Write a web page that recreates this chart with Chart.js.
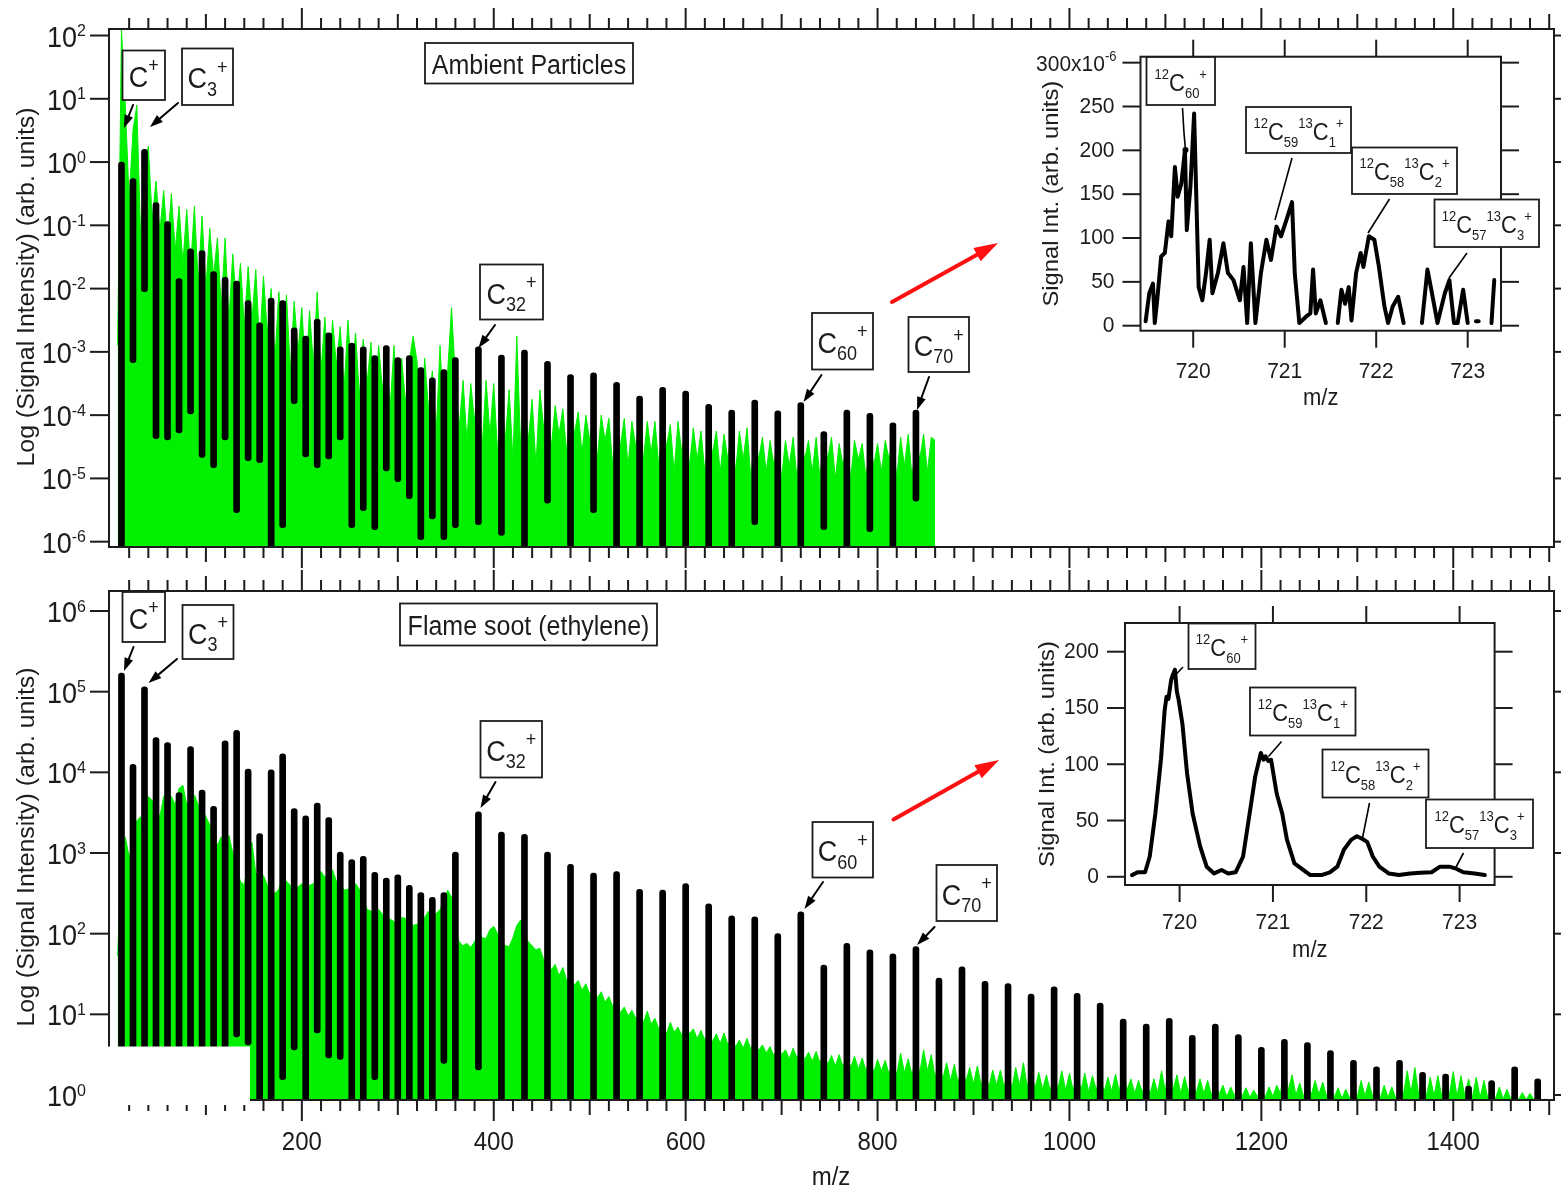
<!DOCTYPE html>
<html>
<head>
<meta charset="utf-8">
<title>Carbon cluster spectra</title>
<script src="https://cdn.jsdelivr.net/npm/chart.js@4.4.1/dist/chart.umd.min.js"></script>
<style>
  html, body { margin: 0; background: #fff; }
  #page { position: relative; width: 1561px; height: 1189px; overflow: hidden; background: #fff; }
  #page canvas { position: absolute; left: 0; top: 0; }
</style>
</head>
<body>
<div id="page">
  <canvas id="ambient" width="1561" height="1189"></canvas>
  <canvas id="soot" width="1561" height="1189"></canvas>
  <canvas id="ambientIso" width="1561" height="1189"></canvas>
  <canvas id="sootIso" width="1561" height="1189"></canvas>
</div>
<script>
const FONT = '"Liberation Sans", Arial, Helvetica, sans-serif';
const INK = '#1c1c1c';
const LIME = '#00f000';
const RED = '#ff1010';
const VS = 1.08;          // glyphs are drawn a little taller than wide
const MZ_PER_C = 12;      // C_n sits at m/z 12 n
const NOISE_START = 8;    // noise traces are sampled every 4 m/z from m/z 8
const NOISE_STEP = 4;

// ---- Ambient particles: cluster peaks (log10 of top / bottom of each peak) ----
const ambientClusters = [1, 2, 3, 4, 5, 6, 7, 8, 9, 10, 11, 12, 13, 14, 15, 16, 17, 18, 19, 20,
  21, 22, 23, 24, 25, 26, 27, 28, 29, 30, 32, 34, 36, 38, 40, 42, 44, 46, 48, 50,
  52, 54, 56, 58, 60, 62, 64, 66, 68, 70];
const ambientPeakLog = [0.0, -0.26, 0.20, -0.64, -0.94, -1.84, -1.37, -1.40, -1.73, -1.82,
  -1.88, -2.19, -2.54, -2.15, -2.19, -2.62, -2.75, -2.48, -2.70, -2.92,
  -2.86, -2.92, -3.06, -2.90, -3.09, -3.06, -3.25, -3.41, -3.28, -3.09,
  -2.92, -3.05, -2.97, -3.15, -3.36, -3.33, -3.48, -3.70, -3.56, -3.62,
  -3.83, -3.92, -3.76, -3.93, -3.80, -4.26, -3.92, -3.97, -4.12, -3.92];
const ambientBaseLog = [-6.1, -3.17, -2.05, -4.37, -4.39, -4.28, -3.98, -4.67, -4.83, -4.39,
  -5.54, -4.72, -4.75, -6.1, -5.78, -3.82, -4.66, -4.83, -4.69, -4.39,
  -5.78, -5.51, -5.81, -4.88, -5.05, -5.32, -5.97, -5.64, -5.97, -5.78,
  -5.73, -5.9, -6.1, -5.39, -6.1, -5.54, -6.1, -6.1, -6.1, -6.1,
  -6.1, -6.1, -5.73, -6.1, -6.1, -5.81, -6.1, -5.84, -6.1, -5.36];
// noisy background spectrum, log10, alternating spike tops and the dips between them
const ambientNoiseLog = [
  -2.9, 2.1, 0.9, -0.6, 0.5, 0.9, -1.2, -0.1, 0.25, -0.9,
  -0.3, -1.1, -0.45, -1.3, -0.5, -1.4, -0.7, -1.6, -0.75, -1.7,
  -0.7, -1.9, -0.85, -2.0, -1.05, -1.8, -1.2, -2.3, -1.2, -2.5,
  -1.45, -2.3, -1.6, -2.6, -1.65, -2.5, -1.7, -2.9, -1.8, -2.7,
  -2.0, -3.1, -2.05, -2.9, -2.1, -3.3, -2.2, -3.0, -2.3, -3.4,
  -2.35, -3.2, -2.05, -3.3, -2.45, -3.5, -2.5, -3.2, -2.6, -3.6,
  -2.5, -3.4, -2.7, -3.7, -2.8, -3.5, -2.85, -3.9, -2.9, -3.6,
  -2.95, -3.9, -2.9, -4.0, -3.1, -3.8, -3.15, -2.75, -3.15, -4.2,
  -3.1, -3.9, -3.3, -4.3, -2.9, -4.1, -3.3, -2.3, -3.4, -4.2,
  -3.45, -4.4, -3.5, -4.1, -3.4, -4.5, -3.45, -4.3, -3.5, -4.6,
  -3.55, -4.4, -3.6, -4.7, -2.75, -4.5, -3.7, -4.4, -3.75, -4.8,
  -3.6, -4.2, -3.8, -4.5, -3.85, -4.3, -3.9, -4.6, -3.75, -4.3,
  -3.95, -4.6, -4.0, -4.4, -3.9, -4.7, -4.0, -4.4, -4.05, -4.8,
  -4.0, -4.5, -4.05, -4.8, -4.1, -4.5, -4.05, -4.7, -4.1, -4.6,
  -4.1, -4.8, -4.05, -4.5, -4.15, -4.9, -4.1, -4.6, -4.15, -4.8,
  -4.2, -4.7, -4.25, -4.9, -4.3, -4.6, -4.25, -4.9, -4.3, -4.7,
  -4.2, -4.9, -4.25, -4.7, -4.2, -5.0, -4.3, -4.7, -4.35, -4.9,
  -4.4, -4.8, -4.35, -5.0, -4.4, -4.8, -4.35, -5.0, -4.35, -4.7,
  -4.4, -4.9, -4.35, -5.0, -4.3, -4.7, -4.35, -5.0, -4.45, -4.8,
  -4.4, -5.0, -4.4, -4.7, -4.45, -5.0, -4.4, -4.8, -4.45, -4.9,
  -4.4, -4.7, -4.3, -5.0, -4.35, -4.8, -4.3, -5.0, -4.35, -4.7,
  -4.3, -4.9, -4.35, -4.4];

// ---- Flame soot (ethylene) ----
const sootClusters = [1, 2, 3, 4, 5, 6, 7, 8, 9, 10, 11, 12, 13, 14, 15, 16, 17, 18, 19, 20,
  21, 22, 23, 24, 25, 26, 27, 28, 29, 30, 32, 34, 36, 38, 40, 42, 44, 46, 48, 50,
  52, 54, 56, 58, 60, 62, 64, 66, 68, 70, 72, 74, 76, 78, 80, 82, 84, 86, 88, 90,
  92, 94, 96, 98, 100, 102, 104, 106, 108, 110, 112, 114, 116, 118, 120, 122, 124];
const sootPeakLog = [5.23, 4.10, 5.06, 4.43, 4.37, 3.75, 4.32, 3.78, 3.58, 4.39,
  4.52, 4.04, 3.24, 4.03, 4.23, 3.55, 3.46, 3.62, 3.44, 3.01,
  2.92, 2.96, 2.76, 2.69, 2.73, 2.60, 2.51, 2.45, 2.51, 3.01,
  3.51, 3.26, 3.23, 3.01, 2.86, 2.75, 2.77, 2.55, 2.54, 2.62,
  2.37, 2.22, 2.21, 2.00, 2.27, 1.61, 1.88, 1.80, 1.75, 1.84,
  1.45, 1.59, 1.41, 1.38, 1.25, 1.34, 1.26, 1.14, 0.94, 0.88,
  0.95, 0.74, 0.88, 0.75, 0.59, 0.69, 0.65, 0.55, 0.43, 0.35,
  0.43, 0.28, 0.26, 0.11, 0.18, 0.35, 0.20];
const sootBaseLog = [-0.1, -0.1, -0.1, -0.1, -0.1, -0.1, -0.1, -0.1, -0.1, -0.1,
  0.72, 0.62, -0.1, -0.1, 0.19, 0.56, -0.1, 0.77, 0.46, 0.44,
  -0.1, -0.1, 0.19, -0.1, -0.1, -0.1, -0.1, -0.1, 0.39, -0.1,
  0.31, -0.1, -0.1, -0.1, -0.1, -0.1, -0.1, -0.1, -0.1, -0.1,
  -0.1, -0.1, -0.1, -0.1, -0.1, -0.1, -0.1, -0.1, -0.1, -0.1,
  -0.1, -0.1, -0.1, -0.1, -0.1, -0.1, -0.1, -0.1, -0.1, -0.1,
  -0.1, -0.1, -0.1, -0.1, -0.1, -0.1, -0.1, -0.1, -0.1, -0.1,
  -0.1, -0.1, -0.1, -0.1, -0.1, -0.1, -0.1];
const sootNoiseLog = [
  1.72, 3.0, 3.2, 2.95, 3.1, 3.4, 3.45, 3.35, 3.7, 3.65,
  3.55, 3.45, 3.7, 3.75, 3.7, 3.6, 3.8, 3.84, 3.6, 3.65,
  3.72, 3.6, 3.55, 3.45, 3.35, 3.15, 3.1, 3.2, 3.15, 3.22,
  3.0, 2.8, 2.65, 2.6, 2.9, 3.13, 2.75, 2.7, 2.72, 2.6,
  2.55, 2.5, 2.55, 2.7, 2.65, 2.6, 2.55, 2.58, 2.62, 2.5,
  2.6, 2.62, 2.7, 2.77, 2.7, 2.75, 2.79, 2.65, 2.6, 2.54,
  2.55, 2.6, 2.62, 2.55, 2.45, 2.3, 2.28, 2.25, 2.3, 2.24,
  2.2, 2.18, 2.15, 2.12, 2.2, 2.19, 2.15, 2.1, 2.12, 2.05,
  2.2, 2.28, 2.2, 2.25, 2.3, 2.4, 2.54, 2.45, 2.05, 1.9,
  1.85, 1.88, 1.83, 1.9, 2.0, 1.95, 1.94, 2.05, 2.09, 2.0,
  1.9, 1.85, 1.84, 1.95, 2.1, 2.17, 2.0, 1.9, 1.85, 1.8,
  1.82, 1.68, 1.7, 1.55, 1.62, 1.48, 1.58, 1.42, 1.48, 1.36,
  1.42, 1.3, 1.38, 1.25, 1.32, 1.2, 1.28, 1.15, 1.22, 1.1,
  1.18, 1.02, 1.09, 0.98, 1.05, 0.95, 1.02, 0.9, 1.04, 0.88,
  0.95, 0.82, 0.88, 0.76, 0.9, 0.78, 0.84, 0.74, 0.89, 0.76,
  0.82, 0.7, 0.8, 0.68, 0.81, 0.66, 0.76, 0.64, 0.77, 0.62,
  0.7, 0.6, 0.68, 0.58, 0.7, 0.56, 0.72, 0.55, 0.62, 0.52,
  0.6, 0.48, 0.62, 0.5, 0.56, 0.45, 0.58, 0.46, 0.55, 0.44,
  0.53, 0.42, 0.54, 0.4, 0.5, 0.38, 0.49, 0.36, 0.5, 0.35,
  0.5, 0.34, 0.48, 0.32, 0.46, 0.3, 0.45, 0.28, 0.44, 0.3,
  0.43, 0.26, 0.42, 0.25, 0.52, 0.28, 0.45, 0.24, 0.5, 0.28,
  0.56, 0.3, 0.5, 0.22, 0.42, 0.2, 0.4, 0.18, 0.38, 0.15,
  0.36, 0.16, 0.34, 0.14, 0.36, 0.12, 0.3, 0.1, 0.31, 0.12,
  0.31, 0.1, 0.3, 0.08, 0.34, 0.12, 0.4, 0.1, 0.32, 0.08,
  0.28, 0.07, 0.25, 0.05, 0.23, 0.08, 0.3, 0.06, 0.27, 0.05,
  0.31, 0.06, 0.27, 0.04, 0.24, 0.06, 0.27, 0.03, 0.22, 0.05,
  0.26, 0.04, 0.35, 0.06, 0.2, 0.02, 0.18, 0.03, 0.19, 0.01,
  0.2, 0.03, 0.3, 0.04, 0.48, 0.06, 0.25, 0.02, 0.23, 0.03,
  0.23, 0.01, 0.2, 0.02, 0.18, 0.0, 0.15, 0.01, 0.12, -0.02,
  0.1, -0.01, 0.12, -0.02, 0.09, -0.03, 0.06, -0.02, 0.08, -0.03,
  0.1, -0.02, 0.12, 0.02, 0.38, 0.06, 0.25, 0.0, 0.15, -0.02,
  0.15, 0.0, 0.18, 0.01, 0.16, -0.02, 0.12, -0.03, 0.09, -0.04,
  0.07, -0.04, 0.12, -0.03, 0.18, -0.01, 0.16, -0.02, 0.1, -0.04,
  0.12, -0.03, 0.1, -0.04, 0.12, 0.0, 0.3, 0.03, 0.34, 0.0,
  0.28, -0.02, 0.22, -0.01, 0.24, -0.02, 0.26, 0.0, 0.29, -0.02,
  0.24, -0.01, 0.2, -0.03, 0.22, -0.03, 0.18, -0.04, 0.12, -0.05,
  0.1, -0.05, 0.07, -0.05, 0.05, -0.06, 0.03, -0.06, 0.02, -0.06,
  0.0, -0.06, -0.05];

// ---- C60 isotope windows (signal in units of 1e-6) ----
const ambientIsoMz = [719.48, 719.52, 719.56, 719.58, 719.61, 719.65, 719.69, 719.73, 719.76, 719.80,
  719.83, 719.87, 719.91, 719.93, 719.97, 720.01, 720.03, 720.06, 720.10, 720.14,
  720.18, 720.21, 720.27, 720.33, 720.38, 720.44, 720.51, 720.55, 720.59, 720.63,
  720.68, 720.74, 720.80, 720.85, 720.91, 720.96, 721.02, 721.08, 721.11, 721.16,
  721.23, 721.28, 721.31, 721.34, 721.39, 721.45, 721.51, 721.58, 721.62, 721.66,
  721.70, 721.73, 721.78, 721.83, 721.86, 721.92, 721.98, 722.03, 722.09, 722.13,
  722.18, 722.24, 722.30, 722.40, 722.50, 722.56, 722.61, 722.67, 722.75, 722.80,
  722.85, 722.89, 722.95, 723.00, 723.05, 723.09, 723.12, 723.18, 723.26, 723.29];
const ambientIsoSignal = [5, 37, 48, 3, 33, 79, 83, 119, 102, 181,
  147, 162, 200, 109, 159, 242, 162, 44, 29, 60,
  98, 37, 60, 94, 60, 52, 29, 67, 3, 94,
  3, 60, 98, 75, 113, 102, 121, 141, 60, 3,
  10, 14, 64, 14, 29, 3, null, 3, 41, 25,
  44, 6, 60, 83, 67, 102, 98, 67, 22, 3,
  22, 33, 3, null, 3, 64, 37, 3, 37, 52,
  3, 3, 41, 3, null, 5, 5, null, 3, 52];
const sootIsoMz = [719.49, 719.55, 719.63, 719.68, 719.74, 719.80, 719.84, 719.86, 719.88, 719.91,
  719.93, 719.95, 719.97, 719.99, 720.03, 720.08, 720.14, 720.22, 720.29, 720.37,
  720.45, 720.52, 720.60, 720.68, 720.75, 720.81, 720.87, 720.90, 720.92, 720.95,
  720.98, 721.04, 721.10, 721.15, 721.23, 721.31, 721.40, 721.52, 721.61, 721.69,
  721.76, 721.84, 721.90, 721.95, 722.01, 722.07, 722.14, 722.24, 722.35, 722.47,
  722.58, 722.70, 722.79, 722.89, 722.97, 723.04, 723.16, 723.27];
const sootIsoSignal = [1.5, 4, 4, 18, 56, 104, 148, 160, 158, 175,
  180, 184, 165, 157, 136, 92, 56, 27, 9, 3,
  6, 3, 4, 18, 56, 89, 110, 104, 107, 103,
  104, 74, 56, 33, 12, 7, 1.5, 1.5, 4, 9,
  24, 33, 36, 34, 31, 18, 9, 3, 1.5, 3,
  3.5, 4, 9, 9, 7, 4, 3, 1.5];

const isoTicks = [720, 721, 722, 723];
const ambientIsoYTicks = [0, 50, 100, 150, 200, 250, 300];
const sootIsoYTicks = [0, 50, 100, 150, 200];
const massLabels = [200, 400, 600, 800, 1000, 1200, 1400];

// ---- annotation layout (page pixels) ----
const C = (sub) => sub ? [['C', 'n'], [sub, 'd'], ['+', 'u']] : [['C', 'n'], ['+', 'u']];
const iso = (a, b) => b
  ? [['12', 'u'], ['C', 'n'], [a, 'd'], ['13', 'u'], ['C', 'n'], [b, 'd'], ['+', 'u']]
  : [['12', 'u'], ['C', 'n'], [a, 'd'], ['+', 'u']];

const ambientNotes = [
  { box: [122.5, 50.5, 165, 100], parts: C(), from: [133, 105], to: [124, 128] },
  { box: [182, 48.5, 233, 105], parts: C('3'), from: [178, 103], to: [150, 127] },
  { box: [425, 43, 633, 83.5], parts: [['Ambient Particles', 'n']], size: 25 },
  { box: [480, 264.5, 543, 319.5], parts: C('32'), from: [495, 325], to: [478.5, 348] },
  { box: [812, 313, 873, 369.5], parts: C('60'), from: [821.5, 375], to: [803.5, 402] },
  { box: [908.5, 317, 969, 372], parts: C('70'), from: [929, 377], to: [917, 410] }
];
const sootNotes = [
  { box: [122.5, 592, 165, 642], parts: C(), from: [133.5, 647], to: [124, 671] },
  { box: [182.5, 605, 233.5, 659], parts: C('3'), from: [177, 659], to: [148.5, 683] },
  { box: [400, 603.5, 657, 645.5], parts: [['Flame soot (ethylene)', 'n']], size: 25 },
  { box: [480.5, 721, 542, 777.5], parts: C('32'), from: [495.5, 782], to: [480.5, 808] },
  { box: [812.5, 822, 873, 877.5], parts: C('60'), from: [823, 882], to: [804.5, 909] },
  { box: [936.5, 865, 997, 921], parts: C('70'), from: [934.5, 927], to: [917, 945] }
];
const ambientIsoNotes = [
  { box: [1146.5, 57, 1215, 105], parts: iso('60'), lead: [[1182.5, 108], [1184, 133], [1185.5, 150]], dot: true },
  { box: [1246, 107, 1351, 153], parts: iso('59', '1'), lead: [[1292, 158], [1275, 220]] },
  { box: [1352, 147.5, 1457, 194], parts: iso('58', '2'), lead: [[1389.5, 199], [1368, 233]] },
  { box: [1434.5, 199.5, 1539, 247], parts: iso('57', '3'), lead: [[1467, 253], [1449, 278]] }
];
const sootIsoNotes = [
  { box: [1188.5, 623.5, 1255.5, 669], parts: iso('60'), lead: [[1183, 667], [1172.5, 678]] },
  { box: [1250, 687.5, 1355.5, 735.5], parts: iso('59', '1'), lead: [[1281.5, 741.5], [1268.5, 756.5]] },
  { box: [1322.5, 749.5, 1428.5, 797.5], parts: iso('58', '2'), lead: [[1369.5, 803], [1362.5, 838]] },
  { box: [1426, 799.5, 1533, 848], parts: iso('57', '3'), lead: [[1463.5, 853], [1455.5, 868]] }
];

// ---------- drawing helpers ----------
function setFont(ctx, size) { ctx.font = `${size}px ${FONT}`; }

function seg(ctx, x1, y1, x2, y2) {
  ctx.beginPath(); ctx.moveTo(x1, y1); ctx.lineTo(x2, y2); ctx.stroke();
}

// parts: [text, 'n' | 'u' (superscript) | 'd' (subscript)], y is the baseline
function rich(ctx, parts, x, y, size, align, opt = {}) {
  const small = opt.small || Math.round(size * 0.62);
  const up = opt.up ?? 0.5, down = opt.down ?? 0.25;
  let w = 0;
  const widths = parts.map(([t, k]) => {
    setFont(ctx, k === 'n' ? size : small);
    const m = ctx.measureText(t).width; w += m; return m;
  });
  let cx = align === 'center' ? -w / 2 : align === 'right' ? -w : 0;
  ctx.save();
  ctx.translate(x, y); ctx.scale(1, VS);
  ctx.fillStyle = INK; ctx.textAlign = 'left'; ctx.textBaseline = 'alphabetic';
  parts.forEach(([t, k], i) => {
    setFont(ctx, k === 'n' ? size : small);
    const dy = k === 'u' ? -size * up : k === 'd' ? size * down : 0;
    ctx.fillText(t, cx, dy);
    cx += widths[i];
  });
  ctx.restore();
}

function label(ctx, str, x, y, size, align = 'center', rot = 0) {
  ctx.save();
  ctx.translate(x, y); ctx.scale(1, VS);
  if (rot) ctx.rotate(rot);
  setFont(ctx, size); ctx.fillStyle = INK;
  ctx.textAlign = align; ctx.textBaseline = 'middle';
  ctx.fillText(str, 0, 0);
  ctx.restore();
}

function arrow(ctx, [x1, y1], [x2, y2], color, width, headLen, headW) {
  const ang = Math.atan2(y2 - y1, x2 - x1);
  const bx = x2 - headLen * Math.cos(ang), by = y2 - headLen * Math.sin(ang);
  ctx.save();
  ctx.strokeStyle = color; ctx.fillStyle = color; ctx.lineWidth = width; ctx.lineCap = 'round';
  seg(ctx, x1, y1, bx, by);
  ctx.beginPath();
  ctx.moveTo(x2, y2);
  ctx.lineTo(bx + headW * Math.sin(ang), by - headW * Math.cos(ang));
  ctx.lineTo(bx - headW * Math.sin(ang), by + headW * Math.cos(ang));
  ctx.closePath(); ctx.fill();
  ctx.restore();
}

function noteBox(ctx, note, size, small, opt) {
  const [x1, y1, x2, y2] = note.box;
  const s = note.size || size;
  ctx.save();
  ctx.fillStyle = '#fff';
  ctx.fillRect(x1, y1, x2 - x1, y2 - y1);
  ctx.strokeStyle = INK; ctx.lineWidth = 1.8;
  ctx.strokeRect(x1, y1, x2 - x1, y2 - y1);
  rich(ctx, note.parts, (x1 + x2) / 2, (y1 + y2) / 2 + s * 0.4 * VS, s, 'center', { small, ...opt });
  ctx.restore();
}

// ---------- main spectrum panels ----------
function panelDecor(d) {
  return {
    id: 'panelDecor',
    afterDraw(chart) {
      const { ctx, chartArea: a, scales: { x, y } } = chart;
      ctx.save();
      ctx.strokeStyle = INK; ctx.lineWidth = 2; ctx.lineCap = 'butt';
      ctx.strokeRect(a.left, a.top, a.right - a.left, a.bottom - a.top);
      for (let m = 20; m <= 1500; m += 20) {
        const px = x.getPixelForValue(m);
        const len = m % 200 === 0 ? 21 : m % 100 === 0 ? 15 : 11;
        seg(ctx, px, a.top, px, a.top - len);
        seg(ctx, px, a.bottom, px, a.bottom + len);
      }
      for (let e = d.eMin; e <= d.eMax; e++) {
        const py = y.getPixelForValue(10 ** e);
        seg(ctx, a.left - 19, py, a.left, py);
        seg(ctx, a.right, py, a.right + 7, py);
        rich(ctx, [['10', 'n'], [String(e), 'u']], 86, py + 11, 27, 'right', { small: 16, up: 0.36 });
      }
      if (d.massLabels) {
        massLabels.forEach(m => label(ctx, String(m), x.getPixelForValue(m), a.bottom + 43, 24));
        label(ctx, 'm/z', 831, 1178, 24);
      }
      label(ctx, 'Log (Signal Intensity) (arb. units)', 28, d.titleY, 23, 'center', -Math.PI / 2);

      d.notes.forEach(n => {
        noteBox(ctx, n, 27, 18, { up: 0.5, down: 0.25 });
        if (n.from) arrow(ctx, n.from, n.to, '#000', 2, 13, 4.5);
      });
      arrow(ctx, d.red[0], d.red[1], RED, 4, 24, 7.5);

      if (d.patch) {
        ctx.fillStyle = '#fff';
        ctx.fillRect(...d.patch);
      }
      ctx.restore();
    }
  };
}

function spectrumChart(id, clusters, peakLog, baseLog, noiseLog, yRangeLog, d) {
  const peaks = clusters.map((n, i) => ({ x: n * MZ_PER_C, y: [10 ** baseLog[i], 10 ** peakLog[i]] }));
  const noise = noiseLog.map((v, i) => ({ x: NOISE_START + i * NOISE_STEP, y: 10 ** v }));
  return new Chart(document.getElementById(id), {
    type: 'bar',
    data: {
      datasets: [
        { type: 'bar', data: peaks, backgroundColor: '#000', barThickness: 6,
          borderRadius: 3, borderSkipped: false, order: 0 },
        { type: 'line', data: noise, borderColor: LIME, backgroundColor: LIME, borderWidth: 1,
          pointRadius: 0, tension: 0, fill: 'start', order: 1 }
      ]
    },
    options: {
      responsive: false, animation: false, events: [],
      layout: { padding: d.pad },
      plugins: { legend: { display: false }, tooltip: { enabled: false } },
      scales: {
        x: { type: 'linear', min: -1, max: 1505, display: false, offset: false, bounds: 'data' },
        y: { type: 'logarithmic', min: 10 ** yRangeLog[0], max: 10 ** yRangeLog[1], display: false, bounds: 'data' }
      }
    },
    plugins: [panelDecor(d)]
  });
}

// ---------- isotope insets ----------
function isoDecor(d) {
  return {
    id: 'isoDecor',
    afterDraw(chart) {
      const { ctx, chartArea: a, scales: { x, y } } = chart;
      ctx.save();
      ctx.strokeStyle = INK; ctx.lineWidth = 2;
      ctx.strokeRect(a.left, a.top, a.right - a.left, a.bottom - a.top);
      d.yTicks.forEach(v => {
        const py = y.getPixelForValue(v);
        seg(ctx, a.left - 18, py, a.left, py);
        seg(ctx, a.right, py, a.right + 18, py);
        if (d.scaleTag && v === d.yTicks[d.yTicks.length - 1]) {
          rich(ctx, [[v + 'x10', 'n'], ['-6', 'u']], a.left - 24, py + 8, 21, 'right', { small: 13, up: 0.42 });
        } else {
          label(ctx, String(v), a.left - 26, py, 21, 'right');
        }
      });
      isoTicks.forEach(m => {
        const px = x.getPixelForValue(m);
        seg(ctx, px, a.bottom, px, a.bottom + 17);
        seg(ctx, px, a.top, px, a.top - 17);
        label(ctx, String(m), px, a.bottom + d.labelGap, 21);
      });
      label(ctx, 'm/z', (a.left + a.right) / 2, a.bottom + d.labelGap + 27, 22);
      label(ctx, 'Signal Int. (arb. units)', d.titleX, (a.top + a.bottom) / 2, 22, 'center', -Math.PI / 2);

      d.notes.forEach(n => {
        noteBox(ctx, n, 22, 13, { up: 0.5, down: 0.3 });
        ctx.strokeStyle = '#000'; ctx.lineWidth = 1.6;
        ctx.beginPath();
        n.lead.forEach(([px, py], i) => i ? ctx.lineTo(px, py) : ctx.moveTo(px, py));
        ctx.stroke();
        if (n.dot) {
          const [px, py] = n.lead[n.lead.length - 1];
          ctx.fillStyle = '#000';
          ctx.beginPath(); ctx.arc(px, py, 3, 0, Math.PI * 2); ctx.fill();
        }
      });
      ctx.restore();
    }
  };
}

function isoChart(id, mz, signal, xr, yr, d) {
  return new Chart(document.getElementById(id), {
    type: 'line',
    data: {
      datasets: [{
        data: mz.map((m, i) => ({ x: m, y: signal[i] })),
        borderColor: '#000', borderWidth: 4, pointRadius: 0, tension: 0,
        spanGaps: false, borderJoinStyle: 'round', borderCapStyle: 'round'
      }]
    },
    options: {
      responsive: false, animation: false, events: [],
      layout: { padding: d.pad },
      plugins: { legend: { display: false }, tooltip: { enabled: false } },
      scales: {
        x: { type: 'linear', min: xr[0], max: xr[1], display: false, bounds: 'data' },
        y: { type: 'linear', min: yr[0], max: yr[1], display: false, bounds: 'data' }
      }
    },
    plugins: [isoDecor(d)]
  });
}

spectrumChart('ambient', ambientClusters, ambientPeakLog, ambientBaseLog, ambientNoiseLog, [-6.084, 2.103], {
  pad: { left: 109, top: 29, right: 7, bottom: 642 },
  eMin: -6, eMax: 2, titleY: 287, massLabels: false,
  notes: ambientNotes, red: [[892, 302], [998, 243]]
});

spectrumChart('soot', sootClusters, sootPeakLog, sootBaseLog, sootNoiseLog, [-0.062, 6.248], {
  pad: { left: 109, top: 591, right: 7, bottom: 89 },
  eMin: 0, eMax: 6, titleY: 847, massLabels: true,
  notes: sootNotes, red: [[893.5, 819.5], [999, 760]],
  patch: [87, 1046.5, 163, 58.5]
});

isoChart('ambientIso', ambientIsoMz, ambientIsoSignal, [719.424, 723.364], [-5.7, 306.8], {
  pad: { left: 1140.5, top: 56.7, right: 60, bottom: 858.3 },
  yTicks: ambientIsoYTicks, scaleTag: true, labelGap: 41, titleX: 1052,
  notes: ambientIsoNotes
});

isoChart('sootIso', sootIsoMz, sootIsoSignal, [719.415, 723.375], [-7.3, 225.5], {
  pad: { left: 1125, top: 623, right: 66.4, bottom: 304 },
  yTicks: sootIsoYTicks, scaleTag: false, labelGap: 38, titleX: 1048,
  notes: sootIsoNotes
});
</script>
</body>
</html>
